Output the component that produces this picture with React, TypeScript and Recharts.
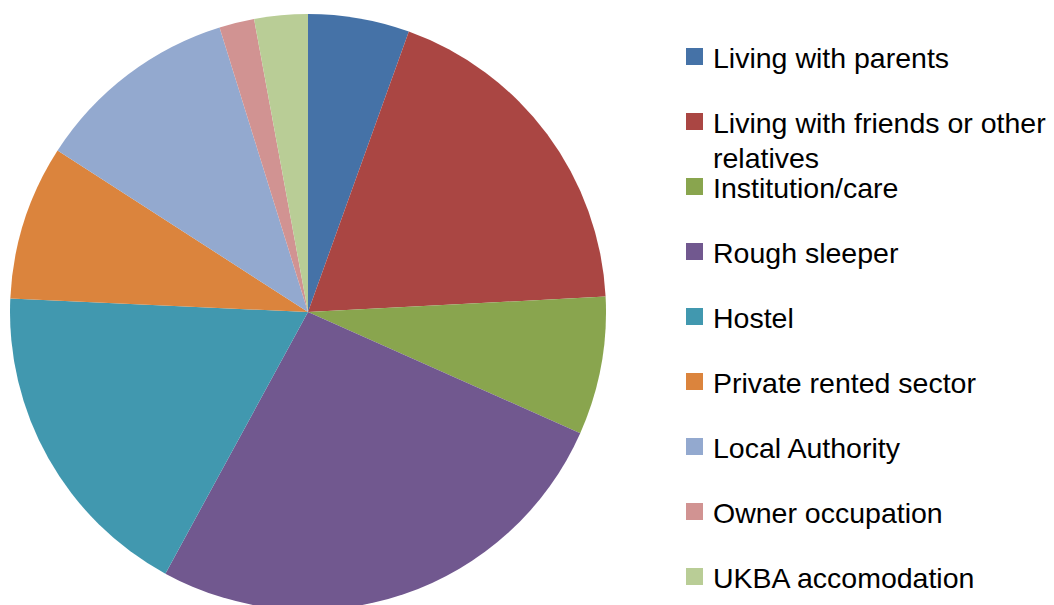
import { Cell, Legend, Pie, PieChart } from 'recharts';

const categories = [
  'Living with parents',
  'Living with friends or other relatives',
  'Institution/care',
  'Rough sleeper',
  'Hostel',
  'Private rented sector',
  'Local Authority',
  'Owner occupation',
  'UKBA accomodation',
];

// share of people, percent
const shares = [5.5, 18.7, 7.5, 26.3, 17.8, 8.4, 11.1, 1.9, 2.9];

const colors = [
  '#4572A7',
  '#AA4643',
  '#89A54E',
  '#71588F',
  '#4198AF',
  '#DB843D',
  '#93A9CF',
  '#D19392',
  '#B9CD96',
];

const data = categories.map((name, i) => ({ name, value: shares[i] }));

// wrap long legend entries like the original (roughly 30 chars per line)
const wrap = (label: string) => {
  if (label.length <= 30) return [label];
  const cut = label.lastIndexOf(' ', 30);
  return [label.slice(0, cut), label.slice(cut + 1)];
};

const SideLegend = () => (
  <svg width={374} height={605}>
    {categories.map((label, i) => {
      const base = 68 + i * 65;
      return (
        <g key={label}>
          <rect x={6} y={base - 20} width={17} height={17} fill={colors[i]} />
          <text
            x={33}
            y={base}
            fontSize={28.5}
            fontFamily='"Liberation Sans", Arial, sans-serif'
            fill="#000"
          >
            {wrap(label).map((line, j) => (
              <tspan key={j} x={33} dy={j === 0 ? 0 : 35}>
                {line}
              </tspan>
            ))}
          </text>
        </g>
      );
    })}
  </svg>
);

export default function App() {
  return (
    <div style={{ position: 'absolute', left: 0, top: 0 }}>
      <PieChart
        width={1054}
        height={605}
        margin={{ top: 0, right: 0, bottom: 0, left: 0 }}
      >
        <Pie
          data={data}
          dataKey="value"
          nameKey="name"
          cx={308}
          cy={312}
          outerRadius={298}
          startAngle={90}
          endAngle={-270}
          stroke="none"
          label={false}
          labelLine={false}
          isAnimationActive={false}
        >
          {data.map((d, i) => (
            <Cell key={d.name} fill={colors[i]} />
          ))}
        </Pie>
        <Legend
          content={<SideLegend />}
          wrapperStyle={{ left: 680, top: 0, width: 374, height: 605 }}
        />
      </PieChart>
    </div>
  );
}
